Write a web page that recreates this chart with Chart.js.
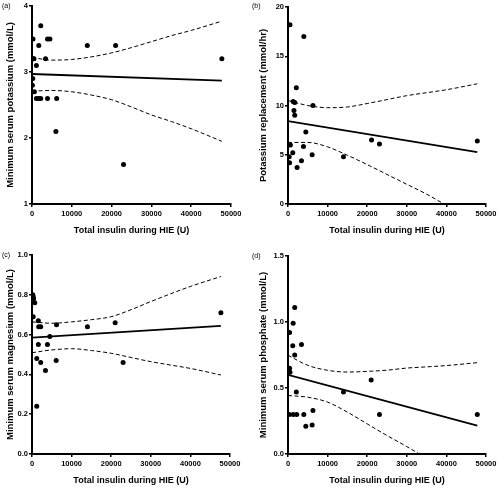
<!DOCTYPE html>
<html>
<head>
<meta charset="utf-8">
<script src="https://cdn.jsdelivr.net/npm/chart.js@4.4.1/dist/chart.umd.min.js"></script>
<style>
  html, body { margin: 0; padding: 0; background: #fff; overflow: hidden; }
  #wrap { position: relative; width: 500px; height: 487px; }
  canvas { position: absolute; }
</style>
</head>
<body>
<div id="wrap">
  <canvas id="panelA" width="250" height="240" style="left:0;top:0"></canvas>
  <canvas id="panelB" width="250" height="240" style="left:250px;top:0"></canvas>
  <canvas id="panelC" width="250" height="250" style="left:0;top:240px"></canvas>
  <canvas id="panelD" width="250" height="250" style="left:250px;top:240px"></canvas>
</div>
<script>
// ── Data ─────────────────────────────────────────────────────
// (a) minimum serum potassium
const aInsulin   = [250, 300, 500, 200, 100, 600, 1700, 2200, 1100, 3400, 3900, 4500, 1100, 1700, 2200, 3900, 6200, 6000, 13900, 21000, 23000, 47700];
const aPotassium = [3.5, 3.2, 3.2, 2.9, 2.8, 2.7, 3.4, 3.7, 3.1, 3.2, 3.5, 3.5, 2.6, 2.6, 2.6, 2.6, 2.6, 2.1, 3.4, 3.4, 1.6, 3.2];
// (b) potassium replacement
const bInsulin     = [500, 4000, 2100, 1300, 1700, 1500, 1700, 6300, 4500, 200, 600, 3900, 1200, 300, 400, 3400, 2300, 6100, 14000, 21100, 23100, 47800];
const bReplacement = [18.2, 17.0, 11.8, 10.4, 10.3, 9.5, 9.0, 10.0, 7.3, 6.0, 6.0, 5.85, 5.2, 4.8, 4.2, 4.4, 3.7, 5.0, 4.8, 6.5, 6.1, 6.4];
// (c) minimum serum magnesium
const cInsulin   = [200, 300, 400, 700, 300, 1600, 1700, 2200, 1600, 3900, 4500, 1200, 2200, 3400, 6200, 6100, 1200, 14000, 21000, 23000, 47700];
const cMagnesium = [0.80, 0.79, 0.78, 0.76, 0.69, 0.67, 0.64, 0.64, 0.55, 0.55, 0.59, 0.48, 0.46, 0.42, 0.65, 0.47, 0.24, 0.64, 0.66, 0.46, 0.71];
// (d) minimum serum phosphate
const dInsulin   = [400, 1700, 1300, 1200, 3400, 1700, 400, 500, 2100, 300, 1300, 2200, 4000, 6300, 4500, 6100, 14000, 21000, 23100, 47800];
const dPhosphate = [0.92, 1.11, 0.99, 0.82, 0.83, 0.75, 0.65, 0.62, 0.47, 0.30, 0.30, 0.30, 0.30, 0.33, 0.21, 0.22, 0.47, 0.56, 0.30, 0.30];

// fitted lines (ends) and 95% bands, sampled along x
const bandX = [0, 5000, 10000, 15000, 20000, 25000, 30000, 35000, 40000, 47700];
const aFitX = [0, 47700], aFitY = [2.97, 2.87];
const aUpper = [3.22, 3.18, 3.19, 3.23, 3.29, 3.37, 3.46, 3.55, 3.63, 3.77];
const aLower = [2.71, 2.72, 2.70, 2.65, 2.58, 2.47, 2.35, 2.25, 2.14, 1.95];

const bFitX = [0, 47800], bFitY = [8.42, 5.27];
const bUpperX = [0, 5000, 10000, 15000, 20000, 25000, 30000, 35000, 40000, 47800];
const bUpper  = [10.5, 10.0, 9.78, 9.85, 10.2, 10.6, 11.0, 11.3, 11.6, 12.2];
const bLowerX = [0, 5000, 10000, 15000, 20000, 25000, 30000, 35000, 39400];
const bLower  = [6.25, 6.25, 5.8, 4.95, 4.0, 3.0, 2.0, 1.0, 0];

const cFitX = [0, 47700], cFitY = [0.585, 0.644];
const cUpper = [0.664, 0.657, 0.664, 0.675, 0.69, 0.725, 0.766, 0.805, 0.842, 0.892];
const cLower = [0.509, 0.523, 0.529, 0.52, 0.506, 0.485, 0.464, 0.447, 0.43, 0.397];

const dFitX = [0, 47800], dFitY = [0.60, 0.215];
const dUpperX = [0, 5000, 10000, 15000, 20000, 25000, 30000, 35000, 40000, 47800];
const dUpper  = [0.748, 0.672, 0.634, 0.621, 0.626, 0.635, 0.651, 0.66, 0.67, 0.692];
const dLowerX = [0, 5000, 10000, 15000, 20000, 25000, 30000, 33200];
const dLower  = [0.443, 0.43, 0.393, 0.317, 0.228, 0.14, 0.056, 0];

const xTicksMax = 50000, xStep = 10000;

// ── Helpers ──────────────────────────────────────────────────
const FONT = "'Liberation Sans', Arial, Helvetica, sans-serif";
const pts = (xs, ys) => xs.map((x, i) => ({ x, y: ys[i] }));

const letterPlugin = {
  id: 'panelLetter',
  afterDraw(chart, args, opts) {
    const ctx = chart.ctx;
    ctx.save();
    ctx.font = '7px ' + FONT;
    ctx.fillStyle = '#000';
    ctx.textBaseline = 'middle';
    ctx.fillText(opts.text, 2, opts.y);
    ctx.restore();
  }
};

function makePanel(p) {
  const line = (data, dashed) => ({
    data, showLine: true, pointRadius: 0, borderColor: '#000',
    borderWidth: dashed ? 1 : 1.8, borderDash: dashed ? [4, 2.5] : [],
    tension: dashed ? 0.4 : 0, cubicInterpolationMode: dashed ? 'monotone' : 'default'
  });
  new Chart(document.getElementById(p.id), {
    type: 'scatter',
    data: {
      datasets: [
        { data: p.points, pointRadius: 2.5, pointBackgroundColor: '#000', pointBorderWidth: 0, showLine: false },
        line(p.fit, false),
        line(p.upper, true),
        line(p.lower, true)
      ]
    },
    options: {
      responsive: false, animation: false,
      layout: { padding: { top: p.padTop, right: p.padRight, left: 0, bottom: 0 } },
      plugins: { legend: { display: false }, tooltip: { enabled: false }, panelLetter: { text: p.letter, y: p.letterY } },
      scales: {
        x: {
          type: 'linear', min: 0, max: xTicksMax,
          afterFit: s => { s.height = 36; },
          border: { display: true, color: '#000', width: 2 },
          grid: { drawOnChartArea: false, drawTicks: true, tickLength: 3, color: '#000', lineWidth: 1.5 },
          ticks: { stepSize: xStep, color: '#000', padding: 2, maxRotation: 0, font: { family: FONT, size: 7.5, weight: 'bold' },
                   callback: v => String(v) },
          title: { display: true, text: 'Total insulin during HIE (U)', color: '#000', padding: { top: 0, bottom: 3.7 },
                   font: { family: FONT, size: 9, weight: 'bold' } }
        },
        y: {
          type: 'linear', min: p.yMin, max: p.yMax,
          afterFit: s => { s.width = p.yWidth; },
          border: { display: true, color: '#000', width: 2 },
          grid: { drawOnChartArea: false, drawTicks: true, tickLength: 3, color: '#000', lineWidth: 1.5 },
          ticks: { stepSize: p.yStep, color: '#000', padding: 1, font: { family: FONT, size: 7.5, weight: 'bold' },
                   callback: v => v.toFixed(p.decimals) },
          title: { display: true, text: p.yTitle, color: '#000', padding: { top: p.yTitlePad, bottom: 0 },
                   font: { family: FONT, size: 9.5, weight: 'bold' } }
        }
      }
    },
    plugins: [letterPlugin]
  });
}

makePanel({ id: 'panelA', letter: '(a)', letterY: 6, yTitle: 'Minimum serum potassium (mmol/L)',
  yMin: 1, yMax: 4, yStep: 1, decimals: 0, yWidth: 32, padTop: 6, padRight: 19, yTitlePad: 4.3,
  points: pts(aInsulin, aPotassium), fit: pts(aFitX, aFitY), upper: pts(bandX, aUpper), lower: pts(bandX, aLower) });

makePanel({ id: 'panelB', letter: '(b)', letterY: 6, yTitle: 'Potassium replacement (mmol/hr)',
  yMin: 0, yMax: 20, yStep: 5, decimals: 0, yWidth: 38, padTop: 7, padRight: 14, yTitlePad: 7.3,
  points: pts(bInsulin, bReplacement), fit: pts(bFitX, bFitY), upper: pts(bUpperX, bUpper), lower: pts(bLowerX, bLower) });

makePanel({ id: 'panelC', letter: '(c)', letterY: 15, yTitle: 'Minimum serum magnesium (mmol/L)',
  yMin: 0, yMax: 1, yStep: 0.2, decimals: 1, yWidth: 32, padTop: 15, padRight: 20, yTitlePad: 4.3,
  points: pts(cInsulin, cMagnesium), fit: pts(cFitX, cFitY), upper: pts(bandX, cUpper), lower: pts(bandX, cLower) });

makePanel({ id: 'panelD', letter: '(d)', letterY: 16, yTitle: 'Minimum serum phosphate (mmol/L)',
  yMin: 0, yMax: 1.5, yStep: 0.5, decimals: 1, yWidth: 38, padTop: 16, padRight: 14, yTitlePad: 7.3,
  points: pts(dInsulin, dPhosphate), fit: pts(dFitX, dFitY), upper: pts(dUpperX, dUpper), lower: pts(dLowerX, dLower) });
</script>
</body>
</html>
